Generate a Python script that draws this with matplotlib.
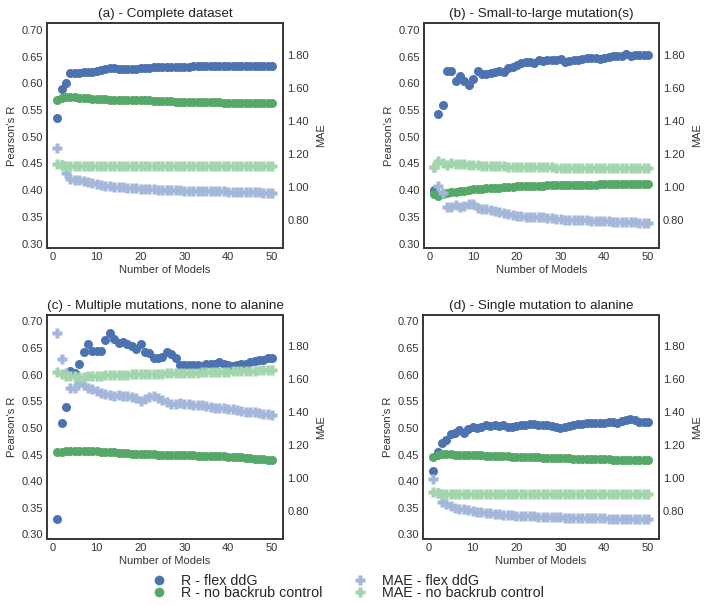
import matplotlib
matplotlib.use("Agg")
import matplotlib.pyplot as plt
import seaborn as sns
from matplotlib.lines import Line2D

sns.set_style("white")
plt.rcParams["font.family"] = ["Liberation Sans", "DejaVu Sans"]

n_models = list(range(1, 51))

titles = ["(a) - Complete dataset", "(b) - Small-to-large mutation(s)",
          "(c) - Multiple mutations, none to alanine", "(d) - Single mutation to alanine"]

# Pearson's R, flex ddG
r_flex = [
    [0.536, 0.589, 0.600, 0.619, 0.620, 0.620, 0.621, 0.621, 0.622, 0.624,
     0.625, 0.626, 0.628, 0.628, 0.627, 0.627, 0.627, 0.626, 0.627, 0.628,
     0.629, 0.629, 0.630, 0.630, 0.631, 0.631, 0.631, 0.630, 0.631, 0.631,
     0.631, 0.632, 0.632, 0.632, 0.632, 0.633, 0.633, 0.633, 0.633, 0.633,
     0.633, 0.632, 0.632, 0.633, 0.633, 0.633, 0.633, 0.633, 0.633, 0.633],
    [0.401, 0.543, 0.560, 0.623, 0.623, 0.605, 0.613, 0.605, 0.597, 0.608,
     0.623, 0.618, 0.618, 0.619, 0.621, 0.624, 0.622, 0.628, 0.631, 0.635,
     0.638, 0.640, 0.640, 0.638, 0.644, 0.642, 0.643, 0.643, 0.644, 0.645,
     0.640, 0.642, 0.644, 0.644, 0.646, 0.648, 0.647, 0.647, 0.646, 0.647,
     0.650, 0.651, 0.651, 0.651, 0.655, 0.652, 0.653, 0.653, 0.653, 0.653],
    [0.329, 0.510, 0.539, 0.607, 0.604, 0.621, 0.643, 0.658, 0.645, 0.644,
     0.645, 0.666, 0.678, 0.667, 0.659, 0.662, 0.658, 0.653, 0.648, 0.658,
     0.643, 0.640, 0.632, 0.632, 0.634, 0.643, 0.639, 0.631, 0.618, 0.618,
     0.619, 0.619, 0.619, 0.616, 0.620, 0.621, 0.620, 0.624, 0.621, 0.619,
     0.617, 0.619, 0.620, 0.621, 0.624, 0.626, 0.628, 0.627, 0.632, 0.631],
    [0.419, 0.455, 0.471, 0.478, 0.488, 0.491, 0.496, 0.491, 0.498, 0.502,
     0.500, 0.502, 0.506, 0.503, 0.505, 0.503, 0.506, 0.502, 0.501, 0.503,
     0.505, 0.506, 0.508, 0.507, 0.506, 0.506, 0.505, 0.504, 0.502, 0.500,
     0.502, 0.504, 0.506, 0.508, 0.508, 0.510, 0.510, 0.510, 0.510, 0.510,
     0.511, 0.511, 0.510, 0.513, 0.515, 0.516, 0.515, 0.512, 0.511, 0.511],
]

# Pearson's R, no backrub control
r_nobr = [
    [0.569, 0.572, 0.574, 0.575, 0.574, 0.573, 0.572, 0.572, 0.571, 0.570,
     0.570, 0.570, 0.569, 0.569, 0.569, 0.569, 0.569, 0.568, 0.568, 0.568,
     0.568, 0.568, 0.567, 0.567, 0.567, 0.567, 0.567, 0.566, 0.566, 0.566,
     0.566, 0.566, 0.565, 0.565, 0.565, 0.565, 0.565, 0.565, 0.564, 0.564,
     0.564, 0.564, 0.564, 0.564, 0.564, 0.563, 0.563, 0.563, 0.563, 0.563],
    [0.392, 0.390, 0.393, 0.395, 0.396, 0.397, 0.398, 0.399, 0.400, 0.402,
     0.403, 0.403, 0.404, 0.404, 0.405, 0.405, 0.406, 0.406, 0.406, 0.407,
     0.407, 0.407, 0.408, 0.408, 0.408, 0.408, 0.409, 0.409, 0.409, 0.409,
     0.409, 0.410, 0.410, 0.410, 0.410, 0.410, 0.410, 0.410, 0.411, 0.411,
     0.411, 0.411, 0.411, 0.411, 0.411, 0.412, 0.412, 0.412, 0.412, 0.412],
    [0.454, 0.455, 0.456, 0.456, 0.456, 0.456, 0.456, 0.456, 0.456, 0.456,
     0.455, 0.455, 0.454, 0.454, 0.453, 0.453, 0.453, 0.452, 0.452, 0.451,
     0.451, 0.451, 0.451, 0.450, 0.450, 0.450, 0.450, 0.449, 0.449, 0.449,
     0.449, 0.449, 0.448, 0.448, 0.448, 0.448, 0.447, 0.447, 0.447, 0.446,
     0.446, 0.445, 0.445, 0.444, 0.443, 0.442, 0.441, 0.441, 0.440, 0.440],
    [0.445, 0.449, 0.451, 0.451, 0.451, 0.450, 0.450, 0.450, 0.450, 0.449,
     0.449, 0.449, 0.448, 0.448, 0.448, 0.447, 0.447, 0.447, 0.446, 0.446,
     0.446, 0.446, 0.445, 0.445, 0.445, 0.444, 0.444, 0.444, 0.443, 0.443,
     0.443, 0.443, 0.442, 0.442, 0.442, 0.442, 0.441, 0.441, 0.441, 0.441,
     0.441, 0.440, 0.440, 0.440, 0.440, 0.440, 0.439, 0.439, 0.439, 0.439],
]

# MAE, flex ddG
mae_flex = [
    [1.237, 1.136, 1.086, 1.050, 1.043, 1.040, 1.037, 1.033, 1.027, 1.020,
     1.014, 1.009, 1.005, 1.003, 1.001, 0.999, 0.997, 0.995, 0.993, 0.991,
     0.989, 0.987, 0.986, 0.985, 0.984, 0.983, 0.982, 0.981, 0.980, 0.979,
     0.978, 0.978, 0.977, 0.977, 0.976, 0.975, 0.975, 0.974, 0.974, 0.973,
     0.972, 0.971, 0.971, 0.970, 0.969, 0.969, 0.968, 0.967, 0.967, 0.966],
    [1.122, 1.009, 0.965, 0.880, 0.880, 0.893, 0.882, 0.888, 0.900, 0.895,
     0.875, 0.866, 0.868, 0.862, 0.855, 0.850, 0.845, 0.838, 0.832, 0.826,
     0.823, 0.820, 0.820, 0.821, 0.820, 0.817, 0.815, 0.811, 0.809, 0.806,
     0.804, 0.803, 0.802, 0.801, 0.800, 0.799, 0.798, 0.797, 0.796, 0.794,
     0.793, 0.792, 0.791, 0.790, 0.789, 0.788, 0.787, 0.786, 0.785, 0.784],
    [1.881, 1.719, 1.639, 1.546, 1.546, 1.582, 1.562, 1.548, 1.538, 1.526,
     1.518, 1.510, 1.502, 1.498, 1.502, 1.496, 1.494, 1.488, 1.482, 1.467,
     1.477, 1.492, 1.498, 1.482, 1.471, 1.461, 1.451, 1.449, 1.455, 1.451,
     1.447, 1.445, 1.441, 1.443, 1.437, 1.429, 1.425, 1.427, 1.425, 1.421,
     1.417, 1.415, 1.409, 1.401, 1.401, 1.397, 1.393, 1.389, 1.385, 1.381],
    [0.992, 0.911, 0.856, 0.842, 0.832, 0.820, 0.815, 0.810, 0.805, 0.800,
     0.796, 0.792, 0.789, 0.786, 0.783, 0.781, 0.779, 0.777, 0.775, 0.773,
     0.772, 0.771, 0.769, 0.768, 0.767, 0.766, 0.765, 0.764, 0.763, 0.762,
     0.761, 0.760, 0.759, 0.759, 0.758, 0.758, 0.757, 0.757, 0.756, 0.756,
     0.755, 0.755, 0.755, 0.754, 0.754, 0.754, 0.753, 0.753, 0.753, 0.752],
]

# MAE, no backrub control
mae_nobr = [
    [1.140, 1.136, 1.130, 1.127, 1.126, 1.126, 1.126, 1.126, 1.126, 1.126,
     1.126, 1.126, 1.126, 1.126, 1.126, 1.126, 1.126, 1.126, 1.126, 1.126,
     1.126, 1.126, 1.126, 1.126, 1.125, 1.125, 1.125, 1.125, 1.125, 1.125,
     1.125, 1.125, 1.125, 1.125, 1.125, 1.125, 1.125, 1.125, 1.125, 1.125,
     1.125, 1.125, 1.125, 1.125, 1.125, 1.125, 1.125, 1.125, 1.125, 1.125],
    [1.120, 1.156, 1.146, 1.136, 1.146, 1.142, 1.140, 1.138, 1.135, 1.132,
     1.131, 1.130, 1.129, 1.128, 1.127, 1.126, 1.125, 1.124, 1.123, 1.122,
     1.121, 1.121, 1.120, 1.120, 1.119, 1.119, 1.118, 1.118, 1.117, 1.117,
     1.117, 1.116, 1.116, 1.116, 1.116, 1.115, 1.115, 1.115, 1.115, 1.115,
     1.114, 1.114, 1.114, 1.114, 1.113, 1.113, 1.113, 1.113, 1.112, 1.112],
    [1.643, 1.627, 1.619, 1.615, 1.615, 1.614, 1.614, 1.615, 1.617, 1.619,
     1.620, 1.621, 1.622, 1.623, 1.624, 1.625, 1.626, 1.627, 1.628, 1.629,
     1.630, 1.631, 1.632, 1.632, 1.633, 1.634, 1.634, 1.635, 1.636, 1.637,
     1.638, 1.638, 1.639, 1.640, 1.641, 1.641, 1.642, 1.643, 1.644, 1.645,
     1.646, 1.647, 1.648, 1.649, 1.650, 1.651, 1.652, 1.654, 1.655, 1.656],
    [0.917, 0.911, 0.905, 0.904, 0.903, 0.903, 0.903, 0.902, 0.902, 0.902,
     0.902, 0.902, 0.902, 0.902, 0.902, 0.902, 0.902, 0.902, 0.902, 0.902,
     0.903, 0.903, 0.903, 0.903, 0.903, 0.903, 0.903, 0.903, 0.903, 0.903,
     0.903, 0.903, 0.903, 0.903, 0.903, 0.903, 0.903, 0.903, 0.903, 0.903,
     0.903, 0.903, 0.903, 0.903, 0.903, 0.903, 0.903, 0.903, 0.903, 0.903],
]

r_ticks = [0.30, 0.35, 0.40, 0.45, 0.50, 0.55, 0.60, 0.65, 0.70]
mae_ticks = [0.80, 1.00, 1.20, 1.40, 1.60, 1.80]

blue = "#4C72B0"
green = "#55A868"
light_blue = "#A3B7DA"
light_green = "#A2D5AC"

fig = plt.figure(figsize=(7.04, 6.06), dpi=100)
positions = [
    [0.067, 0.591, 0.335, 0.371],
    [0.602, 0.591, 0.334, 0.371],
    [0.067, 0.111, 0.335, 0.370],
    [0.601, 0.111, 0.335, 0.370],
]

for i in range(4):
    ax = fig.add_axes(positions[i])
    ax2 = ax.twinx()
    ax.plot(n_models, r_flex[i], "o", color=blue, ms=6.5, mec="none", zorder=3)
    ax.plot(n_models, r_nobr[i], "o", color=green, ms=6.5, mec="none", zorder=3)
    ax2.plot(n_models, mae_flex[i], "P", color=light_blue, ms=7, mec="none")
    ax2.plot(n_models, mae_nobr[i], "P", color=light_green, ms=7, mec="none")

    ax.set_xlim(-1.3, 52.5)
    ax.set_ylim(0.292, 0.713)
    ax2.set_ylim(0.633, 1.99)
    ax.set_yticks(r_ticks)
    ax.set_yticklabels([f"{t:.2f}" for t in r_ticks])
    ax2.set_yticks(mae_ticks)
    ax2.set_yticklabels([f"{t:.2f}" for t in mae_ticks])
    ax.set_xticks([0, 10, 20, 30, 40, 50])

    for a in (ax, ax2):
        a.tick_params(labelsize=8, colors="#333333", length=0, pad=3)
        for s in a.spines.values():
            s.set_color("#3a3a3a")
            s.set_linewidth(1.4)
    ax.set_title(titles[i], fontsize=9.7, color="#222222", pad=4)
    ax.set_ylabel("Pearson's R", fontsize=8, color="#333333", labelpad=3)
    ax2.set_ylabel("MAE", fontsize=8, color="#333333", labelpad=5)
    ax.set_xlabel("Number of Models", fontsize=8, color="#333333", labelpad=2)

handles = [
    Line2D([], [], ls="", marker="o", color=blue, ms=7, mec="none"),
    Line2D([], [], ls="", marker="o", color=green, ms=7, mec="none"),
    Line2D([], [], ls="", marker="P", color=light_blue, ms=6.5, mec="none"),
    Line2D([], [], ls="", marker="P", color=light_green, ms=6.5, mec="none"),
]
labels = ["R - flex ddG", "R - no backrub control", "MAE - flex ddG", "MAE - no backrub control"]
fig.legend(handles, labels, loc="center", bbox_to_anchor=(0.493, 0.031), ncol=2,
           frameon=False, fontsize=10.3, labelspacing=-0.1, handlelength=1.2,
           handletextpad=0.9, columnspacing=2.05, borderpad=0)

fig.savefig("out.png", dpi=100)
